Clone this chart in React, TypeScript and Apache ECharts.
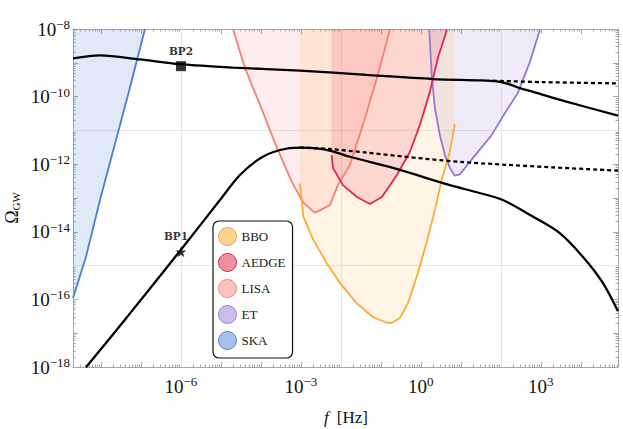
import React, { useEffect, useRef } from "react";
import * as echarts from "echarts";

// Axis ranges (log10 f [Hz], log10 Omega_GW)
const xRange = [-8.7, 4.93];
const yRange = [-18, -8];

// Tick label exponents
const xLabelExps = [-6, -3, 0, 3];
const yLabelExps = [-18, -16, -14, -12, -10, -8];
const gridXExps = [-6, -2, 2];
const gridYExps = [-11, -15];

// Sensitivity curves: [log10 f, log10 Omega]
const skaCurve = [[-8.7, -15.96], [-8.375, -14.74], [-8.025, -13.06], [-7.29, -9.8], [-6.9, -8.0]];
const etCurve = [
  [0.21, -8.03], [0.27, -9.36], [0.35, -10.34], [0.475, -11.14], [0.6, -11.73], [0.725, -12.11],
  [0.85, -12.34], [0.975, -12.3], [1.3, -11.82], [1.77, -11.14], [2.1, -10.49], [2.425, -9.89],
  [2.725, -8.98], [2.975, -8.03],
];
const lisaCurve = [
  [-4.7, -8.0], [-4.4, -9.15], [-3.95, -10.46], [-3.6, -11.52], [-3.225, -12.53], [-2.95, -13.12],
  [-2.65, -13.44], [-2.275, -13.21], [-2.075, -12.62], [-1.775, -12.02], [-1.45, -10.84],
  [-1.1, -9.45], [-0.775, -8.03],
];
const aedgeCurve = [
  [-2.23, -11.73], [-2.2, -12.11], [-1.95, -12.62], [-1.6, -12.97], [-1.275, -13.18], [-0.975, -12.97],
  [-0.6, -12.32], [-0.275, -11.64], [-0.025, -10.84], [0.225, -9.86], [0.425, -8.86], [0.65, -8.03],
];
const bboCurve = [
  [-3.025, -12.57], [-2.94, -13.55], [-2.69, -14.24], [-2.36, -14.92], [-2.025, -15.51], [-1.61, -16.11],
  [-1.2, -16.52], [-0.86, -16.69], [-0.73, -16.7], [-0.525, -16.55], [-0.32, -16.11], [-0.075, -15.22],
  [0.14, -14.33], [0.35, -13.36], [0.52, -12.47], [0.725, -11.63], [0.85, -10.82],
];

// Benchmark spectra
const bp2Solid = [
  [-8.7, -8.87], [-8.025, -8.78], [-7.025, -8.9], [-6.025, -9.04], [-4.7, -9.14], [-3.025, -9.23],
  [-1.36, -9.36], [0.3, -9.48], [1.5, -9.52], [1.9, -9.55], [2.2, -9.63], [2.475, -9.75], [2.81, -9.86],
  [3.64, -10.15], [4.93, -10.56],
];
const bp2Dotted = [[1.8, -9.53], [3.0, -9.57], [4.93, -9.61]];
const bp1Solid = [
  [-8.375, -18.01], [-7.36, -16.54], [-6.0, -14.53], [-5.025, -13.06], [-4.525, -12.32], [-4.025, -11.83],
  [-3.525, -11.58], [-3.025, -11.51], [-2.61, -11.53], [-2.23, -11.61], [-1.775, -11.78], [-0.61, -12.14],
  [0.725, -12.62], [1.4, -12.83], [2.05, -13.06], [2.8, -13.55], [3.475, -14.04], [4.05, -14.74], [4.55, -15.51],
  [4.93, -16.35],
];
const bp1Dotted = [[-3.025, -11.51], [-2.275, -11.55], [0.975, -11.93], [4.93, -12.19]];
const bp2Point = [-6, -9.1];
const bp1Point = [-6, -14.59];

const detectorNames = ["BBO", "AEDGE", "LISA", "ET", "SKA"];
const drawOrder = ["SKA", "ET", "LISA", "AEDGE", "BBO"];
const detectorCurves: Record<string, number[][]> = {
  BBO: bboCurve, AEDGE: aedgeCurve, LISA: lisaCurve, ET: etCurve, SKA: skaCurve,
};
const lineColor: Record<string, string> = {
  BBO: "#ffaa33", AEDGE: "#e2245a", LISA: "#f77f76", ET: "#9378d6", SKA: "#4a7fd6",
};
const areaColor: Record<string, string> = {
  BBO: "rgba(255,170,51,0.18)", AEDGE: "rgba(226,36,90,0.22)", LISA: "rgba(255,120,120,0.2)",
  ET: "rgba(147,120,214,0.21)", SKA: "rgba(74,127,214,0.24)",
};
const legendFill: Record<string, string> = {
  BBO: "#fdd190", AEDGE: "#f0909f", LISA: "#ffc0c0", ET: "#c9bde9", SKA: "#a8bfe8",
};
const legendBorder: Record<string, string> = {
  BBO: "#f2a640", AEDGE: "#d42c58", LISA: "#f0888a", ET: "#9c84d4", SKA: "#5b84d0",
};

function majorTicks(min: number, max: number) {
  const out: number[] = [];
  for (let n = Math.ceil(min); n <= Math.floor(max); n++) out.push(n);
  return out;
}
function minorTicks(min: number, max: number) {
  const out: number[] = [];
  for (let n = Math.floor(min); n <= Math.ceil(max); n++) {
    for (let k = 2; k <= 9; k++) {
      const v = n + Math.log10(k);
      if (v > min && v < max) out.push(v);
    }
  }
  return out;
}

const SERIF = "Liberation Serif";
const FRAME = "#a6a6a6";

const labelRich = {
  b: { fontSize: 19, fontFamily: SERIF, color: "#111" },
  s: { fontSize: 13, fontFamily: SERIF, color: "#111", padding: [0, 0, 9, 0] },
};
const expFormatter = (v: number) => {
  const e = Math.round(v);
  return `{b|10}{s|${e < 0 ? "\u2212" : ""}${Math.abs(e)}}`;
};

function axis(dim: "x" | "y", position: string, ticks: number[], len: number, showLine: boolean, labels?: number[]) {
  const range = dim === "x" ? xRange : yRange;
  return {
    type: "value",
    position,
    min: range[0],
    max: range[1],
    axisLine: { show: showLine, onZero: false, lineStyle: { color: FRAME, width: 1 } },
    axisTick: { show: true, inside: true, length: len, customValues: ticks, lineStyle: { color: FRAME, width: 1 } },
    axisLabel: labels
      ? {
          show: true,
          customValues: labels,
          formatter: expFormatter,
          rich: labelRich,
          margin: dim === "x" ? 8 : 3,
          showMinLabel: true,
          showMaxLabel: true,
          hideOverlap: false,
        }
      : { show: false },
    splitLine: { show: false },
    minorTick: { show: false },
    minorSplitLine: { show: false },
  };
}

const starPath =
  "path://M50,0 L61.8,35.1 L98.9,35.1 L68.9,56.9 L80.3,91.9 L50,70.2 L19.7,91.9 L31.1,56.9 L1.1,35.1 L38.2,35.1 Z";

export default function App() {
  const ref = useRef<HTMLDivElement>(null);
  useEffect(() => {
    document.body.style.margin = "0";
    const chart = echarts.init(ref.current!, undefined, { renderer: "svg" });

    const detectorSeries = drawOrder.map((name) => ({
      type: "line",
      name,
      data: detectorCurves[name],
      symbol: "none",
      silent: true,
      z: 2,
      lineStyle: { color: lineColor[name], width: 1.8 },
      itemStyle: { color: lineColor[name] },
      areaStyle: { color: areaColor[name], origin: "end" },
    }));

    const blackLine = (data: number[][], dotted: boolean) => ({
      type: "line",
      data,
      symbol: "none",
      silent: true,
      smooth: 0.3,
      z: 5,
      lineStyle: { color: "#000", width: 2.3, type: dotted ? [4, 3] : "solid" },
    });

    const option: any = {
      animation: false,
      grid: { left: 73, right: 5, top: 29, bottom: 62, containLabel: false, outerBoundsMode: "none" },
      xAxis: [
        axis("x", "bottom", majorTicks(xRange[0], xRange[1]), 5, true, xLabelExps),
        axis("x", "bottom", minorTicks(xRange[0], xRange[1]), 2.5, false),
        axis("x", "top", majorTicks(xRange[0], xRange[1]), 5, true),
        axis("x", "top", minorTicks(xRange[0], xRange[1]), 2.5, false),
      ],
      yAxis: [
        axis("y", "left", majorTicks(yRange[0], yRange[1]), 5, true, yLabelExps),
        axis("y", "left", minorTicks(yRange[0], yRange[1]), 2.5, false),
        axis("y", "right", majorTicks(yRange[0], yRange[1]), 5, true),
        axis("y", "right", minorTicks(yRange[0], yRange[1]), 2.5, false),
      ],
      legend: {
        data: detectorNames.map((n) => ({
          name: n,
          icon: "circle",
          itemStyle: { color: legendFill[n], borderColor: legendBorder[n], borderWidth: 1 },
        })),
        orient: "vertical",
        left: 213,
        top: 221,
        itemWidth: 18,
        itemHeight: 18,
        itemGap: 7,
        padding: [6, 7, 8, 5],
        backgroundColor: "#fff",
        borderColor: "#111",
        borderWidth: 1.2,
        borderRadius: 6,
        selectedMode: false,
        z: 10,
        textStyle: { fontFamily: SERIF, fontSize: 13, color: "#1a1a1a" },
      },
      graphic: [
        {
          type: "text",
          x: 12,
          y: 208,
          rotation: Math.PI / 2,
          style: {
            text: "{o|\u03A9}{s|GW}",
            rich: {
              o: { fontSize: 18, fontFamily: SERIF, fill: "#111" },
              s: { fontSize: 11, fontFamily: SERIF, fill: "#111", padding: [8, 0, 0, 0] },
            },
            align: "center",
            verticalAlign: "middle",
            fill: "#111",
          },
        },
        {
          type: "text",
          x: 346,
          y: 417,
          style: {
            text: "{i|f}{n|[Hz]}",
            rich: {
              i: { fontSize: 17, fontFamily: SERIF, fontStyle: "italic", fill: "#111", padding: [0, 8, 0, 0] },
              n: { fontSize: 17, fontFamily: SERIF, fill: "#111" },
            },
            align: "center",
            verticalAlign: "middle",
            fill: "#111",
          },
        },
      ],
      series: [
        {
          type: "line",
          data: [],
          silent: true,
          z: 1,
          markLine: {
            silent: true,
            z: 1,
            symbol: ["none", "none"],
            label: { show: false },
            lineStyle: { color: "#e6e6e6", width: 1, type: "solid" },
            data: [...gridXExps.map((v) => ({ xAxis: v })), ...gridYExps.map((v) => ({ yAxis: v }))],
          },
        },
        ...detectorSeries,
        blackLine(bp2Solid, false),
        blackLine(bp2Dotted, true),
        blackLine(bp1Solid, false),
        blackLine(bp1Dotted, true),
        {
          type: "scatter",
          data: [bp2Point],
          symbol: "rect",
          symbolSize: 10,
          silent: true,
          z: 6,
          itemStyle: { color: "#000" },
          label: {
            show: true,
            formatter: "BP2",
            position: "top",
            distance: 5,
            fontFamily: "DejaVu Serif",
            fontWeight: "bold",
            fontSize: 10.5,
            color: "#000",
          },
        },
        {
          type: "scatter",
          data: [bp1Point],
          symbol: starPath,
          symbolSize: 11,
          silent: true,
          z: 6,
          itemStyle: { color: "#000" },
          label: {
            show: true,
            formatter: "BP1",
            position: "top",
            distance: 5,
            offset: [-5, 0],
            fontFamily: "DejaVu Serif",
            fontWeight: "bold",
            fontSize: 10.5,
            color: "#000",
          },
        },
      ],
    };
    chart.setOption(option);
    return () => chart.dispose();
  }, []);
  return <div ref={ref} style={{ width: 623, height: 429 }} />;
}
